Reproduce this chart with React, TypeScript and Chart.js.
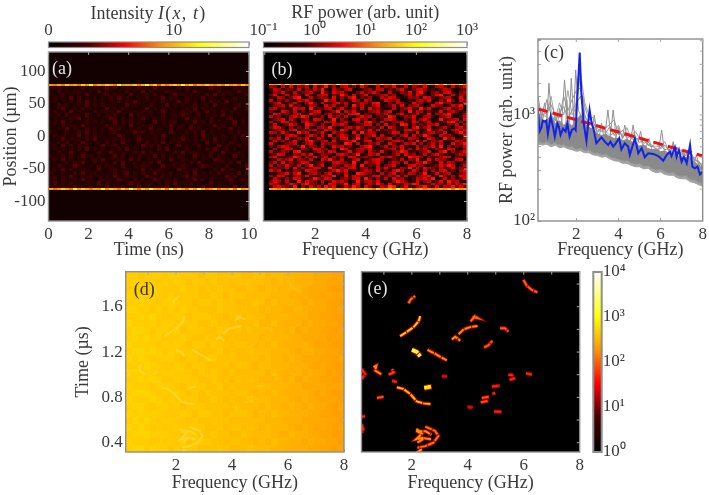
import React, { useEffect, useRef } from "react";
import { Chart, registerables, Element, DatasetController } from "chart.js";

// ---------- data ----------
const heatStops: [number, string][] = [
  [0, "#000000"], [0.2, "#4a0000"], [0.38, "#ff0000"], [0.56, "#ff9000"],
  [0.75, "#ffff00"], [1, "#ffffff"],
];

const positionTicks = [-100, -50, 0, 50, 100];
const timeNsTicks = [0, 2, 4, 6, 8, 10];
const freqTicksB = [0.01, 2, 4, 6, 8];
const freqTicksC = [2, 4, 6, 8];
const freqTicksDE = [1, 2, 3, 4, 5, 6, 7, 8];
const timeUsTicks = [0.4, 0.6, 0.8, 1, 1.2, 1.4, 1.6, 1.8];
const timeUsLabelled = [0.4, 0.8, 1.2, 1.6];
const intensityTicks = [0, 2, 4, 6, 8, 10, 12, 14, 16];
const intensityLabelled = [0, 10];

const aLevels = [0.05, 0.07, 0.08, 0.09, 0.1, 0.11, 0.13, 0.15, 0.17, 0.21];
const aOuterLevel = 0.05;
const lineLevels = [0.3, 0.35, 0.4, 0.44, 0.48, 0.52, 0.56, 0.6, 0.66, 0.74];
const aTopLine = "65758675869576875967685796847578696857686575867586";
const aBottomLine = "75687596875769687586975869768596875869756857685967";
const aRows = [
  "63746152847362947153628473916254738152649371528463",
  "41726358146293742518364917253846127395416283751946",
  "53182647392516847362915473826159473625184937261548",
  "27463918254716382947516382649175328461927536418253",
  "46152738492615374826193574628135947261538472916345",
  "31847256193748265139472618354927163584271936452817",
  "52693174826351947283615492738164257391846253719428",
  "28164937251846372915463827149536284715392648173526",
  "43718265394172658341927546138257496318254719362541",
  "16352849176325498173652941738526149376258413795264",
  "37492615283746159274836512947368125493718264539172",
  "25183674926153847261935748216395471826354917268345",
  "41629375184726395841637259174382651947326185492736",
  "63247158394625178346295817463192547382916453172846",
  "18536429174835261974358261749536182473951628437195",
  "34291756382914657382149635728146395274861935427168",
  "52748163945271836495127384659173826451392746185237",
  "26193847562139478265341957284613927548163294751836",
  "47362518493627154839261745382916547136284951736245",
  "31854962731485296374185927346158293764518329641753",
  "64271835946172539481627354918263751492638175429361",
  "28593716425839164752938146275394186273541987263154",
  "43167285943716528493162758394126574839215647382916",
  "51824697325184763291475863129457386214975362814539",
  "36492815764392178546231957486312975684213749586127",
  "72165384926715348269173854926471538294617385462918",
  "48273951648263719548362197548263179485362714958362",
  "56182473956218473965184723965718243695817432695187",
  "69374825176493825716948357261849375826149375286417",
  "74586392748165938274659183746925817463928574619382",
];

const bLevels = [0.05, 0.12, 0.19, 0.25, 0.29, 0.33, 0.36, 0.4, 0.46, 0.56];
const bTopLine = "76859677596877865977685967758668675856647685967796";
const bBottomLine = "67586876979967685768576787586786975856756567685867";
const bRows = [
  "43052614350623714045231630052436125043260145305236",
  "25403316042537105324600134255031462035641203541023",
  "04362150345207316452013524630152043615720341562034",
  "36015243062145503274051360234514003526410367025143",
  "12540367015234306142570324015365201434065213450162",
  "50324105463012745031264053102643500214536014273054",
  "24610352047315024635103542670031542063412057340216",
  "03452613025400635124073521460235160345201643025471",
  "45130264507132450361240516342005134620735102461350",
  "31064250313560124705362013452460031725403126045312",
  "06523145026430351240567031243501462035126043572014",
  "52301463750214063425103645023175024360145203461025",
  "13460520341653027142056340312564103250463017234506",
  "40265130462301546035214067325013450264135020367142",
  "25013642075314205463012355041623076140325461032504",
  "36520413261045372014536402315064213057246013520463",
  "01432560314520643175024136250314025643107235014625",
  "54263017450236105342061735402136504216034532601473",
  "20314652036415270364125034615203146052374105342016",
  "43506124360253104256037142053460312543016420735124",
  "15240361057324506123470256134025640317250436021543",
  "62013450246105343207615024350163025461403525106347",
  "30465213704325016452310467203514362005143627041325",
  "04136520431652403175024536120345061426350143265104",
  "51243067120354265013624405316203475120346025714236",
  "23650142536014320564137025460213506341250463120354",
  "46012375041623504231650342105463021756403214650321",
  "12534604325106473250146023564013250437016254302561",
  "35061423650234105643270153462035416025473106254013",
  "50426315047236014325460713250346102563401236475025",
  "24135062413650273041562340153621043705264315036142",
  "63502143065412035746021354260315740263150425613046",
  "01346257024531460325107643205146032541370262450135",
  "42650134362015437016254302561340625103456207314265",
  "15304265103742650134256073142506341025463701524036",
  "36425017264305126453017245360124753026145036274510",
  "54213640572314065237146025374160325476102534261547",
  "25643170426351746025374163025487136204573261547362",
];

const cFreqGrid = [0.18, 0.4, 0.6, 0.8, 1, 1.2, 1.4, 1.6, 1.8, 2, 2.2, 2.4, 2.6, 2.8, 3, 3.2, 3.4, 3.6, 3.8, 4, 4.2, 4.4, 4.6, 4.8, 5, 5.2, 5.4, 5.6, 5.8, 6, 6.2, 6.4, 6.6, 6.8, 7, 7.2, 7.4, 7.6, 7.8, 8];
const grayUpper = [1050, 860, 900, 980, 830, 880, 800, 850, 780, 900, 1000, 820, 760, 730, 660, 640, 660, 620, 600, 600, 570, 590, 560, 540, 510, 520, 480, 470, 480, 450, 460, 430, 440, 410, 400, 395, 400, 360, 340, 320];
const grayLower = [575, 545, 565, 535, 550, 525, 530, 505, 510, 480, 490, 465, 470, 445, 440, 425, 430, 405, 395, 385, 370, 375, 355, 345, 350, 330, 335, 315, 305, 310, 295, 285, 290, 270, 265, 270, 250, 245, 235, 225];
const grayD = [1250, 900, 1400, 1000, 880, 1050, 1200, 920, 1100, 1300, 1500, 1000, 800, 860, 700, 720, 680, 780, 640, 720, 610, 680, 600, 620, 550, 580, 520, 500, 560, 480, 520, 460, 520, 430, 440, 420, 460, 380, 360, 340];
const grayE = [950, 1000, 1050, 1250, 1000, 950, 1500, 1100, 1400, 1700, 1800, 1200, 900, 950, 750, 690, 760, 820, 900, 650, 720, 600, 640, 700, 600, 540, 560, 500, 500, 520, 470, 480, 430, 480, 420, 440, 400, 400, 350, 330];
const grayF = [1180, 1000, 960, 1500, 900, 1300, 1000, 1700, 1000, 1200, 2500, 1300, 1000, 800, 680, 780, 700, 640, 680, 800, 600, 760, 600, 580, 620, 500, 530, 520, 470, 490, 560, 450, 470, 450, 470, 410, 430, 370, 370, 320];
const grayG = [530, 520, 530, 500, 520, 490, 500, 480, 470, 455, 460, 440, 440, 420, 415, 400, 405, 385, 370, 365, 350, 350, 335, 325, 325, 310, 315, 295, 285, 290, 275, 270, 270, 255, 250, 250, 235, 230, 220, 212];

const spikeAFreq = [0.18, 0.4, 0.6, 0.7, 0.85, 1.3, 1.44, 1.6, 1.85, 1.97, 2.1, 2.5, 2.63, 2.8, 3.35, 3.5, 3.65, 4.55, 4.7, 4.85, 5.9, 6.05, 6.2, 7.25, 7.4, 7.55];
const spikeAPower = [1490, 850, 880, 1990, 800, 820, 2140, 800, 760, 2660, 1100, 760, 1115, 680, 620, 1115, 600, 540, 805, 510, 450, 722, 430, 390, 485, 370];
const spikeBFreq = [0.3, 0.5, 0.65, 1.1, 1.2, 1.35, 1.65, 1.76, 1.9, 2.08, 2.2, 2.35, 2.75, 2.85, 3, 3.6, 3.75, 3.9, 4.15, 4.3, 4.45, 4.9, 5.05, 5.2, 6.45, 6.6, 6.75, 7.6, 7.7, 7.85];
const spikeBPower = [860, 1300, 820, 800, 1150, 780, 780, 2220, 760, 2300, 2000, 800, 740, 1000, 650, 600, 1115, 580, 570, 800, 540, 520, 700, 490, 420, 560, 400, 350, 420, 320];
const spikeCFreq = [0.9, 1, 1.1, 1.5, 1.55, 1.65, 2.25, 2.32, 2.45, 3.1, 3.2, 3.3, 3.85, 4, 4.1, 5.3, 5.45, 5.6, 6.9, 7, 7.1];
const spikeCPower = [800, 1050, 780, 780, 1400, 760, 900, 1500, 740, 640, 840, 620, 590, 760, 560, 480, 600, 460, 390, 470, 380];

const blueFreq = [0.18, 0.25, 0.33, 0.41, 0.49, 0.57, 0.65, 0.78, 0.89, 0.98, 1.1, 1.17, 1.25, 1.37, 1.49, 1.57, 1.68, 1.79, 1.92, 1.97, 2.05, 2.16, 2.24, 2.35, 2.48, 2.63, 2.73, 2.83, 2.95, 3.19, 3.35, 3.51, 3.62, 3.75, 3.87, 4.03, 4.14, 4.3, 4.46, 4.54, 4.78, 4.94, 5.1, 5.25, 5.41, 5.65, 5.89, 6.13, 6.29, 6.44, 6.52, 6.68, 6.76, 6.87, 7, 7.11, 7.24, 7.4, 7.51, 7.63, 7.75, 7.87, 8];
const bluePower = [1115, 697, 749, 885, 865, 885, 662, 964, 776, 625, 834, 776, 647, 743, 697, 834, 625, 722, 749, 722, 1490, 3873, 1600, 834, 569, 1115, 834, 722, 540, 616, 560, 521, 560, 503, 540, 602, 474, 540, 503, 419, 602, 435, 485, 399, 435, 429, 410, 371, 419, 451, 410, 495, 404, 468, 363, 404, 350, 521, 326, 314, 326, 275, 292];
const redFreq = [0.18, 2, 4, 6, 8];
const redPower = [1140, 900, 690, 530, 410];

const dLevels = [0.585, 0.595, 0.605, 0.615, 0.625, 0.635, 0.645, 0.655, 0.665, 0.675];
const dRows = [
  "887888788777677666655664554443322211",
  "898787878767767665666555454433322111",
  "888898777877676766556545544443222100",
  "989888787777667656665555444333221211",
  "889887888776776766555654544432322110",
  "998878787877666766565545443343222101",
  "889898778767776656656554444333221100",
  "988887887777667665555644543332322110",
  "899878878677766765656554443423221101",
  "898988777876676656555545444332222010",
  "988887878767767665665454543333211100",
  "899898787777666756556555444323322110",
  "989878887677677666555545443432221101",
  "888988778767766665665455444333212100",
  "998887887776767656555554543332322010",
  "889898778777667665656544443423221100",
  "988878887677766756555555444332222111",
  "899987778767676665665454543333212100",
  "988898787777667656556555444323221110",
  "899878878677766665655545443432322101",
  "989888777876776656665454544333221100",
  "898987887767667665555554443332222110",
  "989878778777766756656545444323212101",
  "899988877677667665565555433433221100",
  "988878787867776656655454544332322110",
  "899898878777666765556555443333221101",
];

const streakFreq = [
  [1.88, 1.96, 2.12],
  [1.58, 1.82, 2.06, 2.24, 2.3],
  [3.43, 3.55, 3.73],
  [3.67, 3.85, 4.08, 4.35],
  [4.1, 4.25, 4.35, 4.15],
  [5.15, 5.33, 5.45],
  [4.58, 4.74, 4.88],
  [5.99, 6.11, 6.29, 6.49],
  [2, 2.18, 2.3],
  [2.56, 2.83, 3.07, 3.25],
  [0.63, 0.73, 0.69, 0.93],
  [1.17, 1.35, 1.29],
  [1.29, 1.46],
  [1.46, 1.7, 1.94, 2.18, 2.42, 2.68],
  [2.44, 2.71],
  [0.75, 0.99],
  [0.21, 0.33, 0.21],
  [0.2, 0.33],
  [0.2, 0.26, 0.2],
  [3.07, 3.25],
  [5.45, 5.63],
  [5.49, 5.7],
  [6.08, 6.29],
  [4.86, 5.15],
  [4.88, 4.98],
  [4.5, 4.77],
  [4.46, 4.74],
  [3.99, 4.18],
  [4.94, 5.21],
  [2.48, 2.83, 2.95, 2.77, 2.48, 2.2],
  [2.15, 2.36, 2.15, 2.42],
  [2.15, 2.36],
  [2.15, 2.3, 2.5, 2.7],
  [2.2, 2.45, 2.7],
];
const streakTime = [
  [1.63, 1.665, 1.695],
  [1.34, 1.378, 1.42, 1.47, 1.517],
  [1.31, 1.335, 1.3],
  [1.357, 1.4, 1.42, 1.43],
  [1.47, 1.515, 1.5, 1.51],
  [1.41, 1.41, 1.38],
  [1.24, 1.26, 1.3],
  [1.837, 1.784, 1.748, 1.727],
  [1.22, 1.2, 1.161],
  [1.22, 1.185, 1.15, 1.126],
  [1.067, 1.08, 1.037, 1],
  [1, 1.02, 1.05],
  [0.948, 0.933],
  [0.889, 0.874, 0.83, 0.764, 0.747, 0.741],
  [0.883, 0.895],
  [0.794, 0.806],
  [1.05, 1.007, 0.963],
  [0.628, 0.634],
  [0.563, 0.52, 0.489],
  [0.987, 0.984],
  [1.0, 0.995],
  [0.955, 0.97],
  [1.013, 1],
  [0.895, 0.904],
  [0.83, 0.84],
  [0.794, 0.806],
  [0.756, 0.77],
  [0.717, 0.711],
  [0.676, 0.673],
  [0.542, 0.504, 0.459, 0.4, 0.37, 0.356],
  [0.504, 0.48, 0.43, 0.444],
  [0.311, 0.341],
  [0.52, 0.5, 0.5, 0.47],
  [0.4, 0.44, 0.43],
];
const streakPeak = [0.52, 0.66, 0.56, 0.55, 0.52, 0.5, 0.48, 0.5, 0.8, 0.55, 0.55, 0.46, 0.42, 0.62, 0.72, 0.48, 0.42, 0.42, 0.42, 0.38, 0.42, 0.42, 0.42, 0.42, 0.42, 0.48, 0.48, 0.36, 0.42, 0.52, 0.56, 0.58, 0.55, 0.55];

// ---------- colour + custom heat-cell dataset type ----------
function hex(c: string) {
  return [1, 3, 5].map((i) => parseInt(c.slice(i, i + 2), 16));
}
function heat(t: number) {
  for (let i = 1; i < heatStops.length; i++) {
    const [t1, c1] = heatStops[i];
    if (t <= t1) {
      const [t0, c0] = heatStops[i - 1];
      const f = (t - t0) / (t1 - t0);
      const a = hex(c0), b = hex(c1);
      return `rgb(${a.map((v, k) => Math.round(v + (b[k] - v) * f)).join(",")})`;
    }
  }
  return "#ffffff";
}

class HeatCell extends (Element as any) {
  static id = "heatCell";
  static defaults = {};
  draw(ctx: CanvasRenderingContext2D) {
    const s = this as any;
    ctx.fillStyle = s.color;
    ctx.fillRect(s.px, s.py, s.pw, s.ph);
  }
}
class HeatController extends (DatasetController as any) {
  static id = "heat";
  static defaults = { dataElementType: "heatCell", datasetElementType: false };
  update(mode: any) {
    const meta = (this as any)._cachedMeta;
    this.updateElements(meta.data, 0, meta.data.length, mode);
  }
  updateElements(cells: any[], start: number, count: number) {
    const meta = (this as any)._cachedMeta;
    const { xScale, yScale, _parsed } = meta;
    for (let i = start; i < start + count; i++) {
      const d = _parsed[i];
      const l = Math.round(xScale.getPixelForValue(d.x0));
      const r = Math.round(xScale.getPixelForValue(d.x1));
      const t = Math.round(yScale.getPixelForValue(d.y1));
      const b = Math.round(yScale.getPixelForValue(d.y0));
      Object.assign(cells[i], { px: l, py: t, pw: r - l, ph: b - t, x: l, y: t, color: d.color });
    }
  }
}
Chart.register(...registerables, HeatCell as any, HeatController as any);

function gridCells(rows: string[], levels: number[], x0: number, x1: number, yTop: number, yBottom: number) {
  const cells: any[] = [];
  const rowH = (yTop - yBottom) / rows.length;
  rows.forEach((row, ri) => {
    const w = (x1 - x0) / row.length;
    [...row].forEach((ch, ci) => {
      cells.push({
        x: x0 + ci * w, y: yTop - ri * rowH,
        x0: x0 + ci * w, x1: x0 + (ci + 1) * w,
        y1: yTop - ri * rowH, y0: yTop - (ri + 1) * rowH,
        color: heat(levels[+ch]),
      });
    });
  });
  return cells;
}
const heatSet = (cells: any[]) => ({ type: "heat", parsing: false, data: cells });
const pairs = (xs: number[], ys: number[]) => xs.map((x, i) => ({ x, y: ys[i] }));
const lineSet = (xs: number[], ys: number[], color: string, width: number, extra: any = {}) => ({
  type: "line", data: pairs(xs, ys), borderColor: color, borderWidth: width, pointRadius: 0,
  tension: 0, fill: false, ...extra,
});

// ---------- panel scaffolding ----------
const SERIF = "'Liberation Serif'";
const TEXT = "#3a3a3a";
const FRAME = "#8e8e8e";
const TICK_SIZE = 17;
const TITLE_SIZE = 18;

const decoPlugin = {
  id: "panelDeco",
  beforeDatasetsDraw(chart: any, _a: any, o: any) {
    if (!o.bg) return;
    const a = chart.chartArea;
    chart.ctx.fillStyle = o.bg;
    chart.ctx.fillRect(a.left, a.top, a.right - a.left, a.bottom - a.top);
  },
  afterDraw(chart: any, _a: any, o: any) {
    const a = chart.chartArea, ctx = chart.ctx;
    ctx.save();
    ctx.strokeStyle = FRAME;
    ctx.lineWidth = o.frameWidth ?? 1.4;
    ctx.strokeRect(a.left, a.top, a.right - a.left, a.bottom - a.top);
    ctx.lineWidth = 1;
    ctx.strokeStyle = "#a8a8a8";
    if (o.mirror !== false) {
      const xs = chart.scales.x, ys = chart.scales.y;
      xs.ticks.forEach((_: any, i: number) => {
        const p = xs.getPixelForTick(i);
        ctx.beginPath(); ctx.moveTo(p, a.top); ctx.lineTo(p, a.top + 3); ctx.stroke();
      });
      ys.ticks.forEach((_: any, i: number) => {
        const p = ys.getPixelForTick(i);
        ctx.beginPath(); ctx.moveTo(a.right, p); ctx.lineTo(a.right - 3, p); ctx.stroke();
      });
    }
    if (o.label) {
      ctx.fillStyle = o.labelColor;
      ctx.font = `${TITLE_SIZE}px ${SERIF}`;
      ctx.textBaseline = "middle";
      ctx.fillText(o.label, a.left + o.labelDX, a.top + o.labelDY);
    }
    if (o.sideTitle) {
      ctx.translate(o.sideX, (a.top + a.bottom) / 2 + 1);
      ctx.rotate(-Math.PI / 2);
      ctx.fillStyle = TEXT;
      ctx.font = `${TITLE_SIZE}px ${SERIF}`;
      ctx.textAlign = "center";
      ctx.textBaseline = "middle";
      ctx.fillText(o.sideTitle, 0, 0);
    }
    ctx.restore();
  },
};

const SUP: Record<string, string> = { "-": "⁻", "0": "⁰", "1": "¹", "2": "²", "3": "³", "4": "⁴" };
function logLabel(v: number) {
  const e = Math.log10(v);
  if (Math.abs(e - Math.round(e)) > 1e-6) return "";
  return "10" + [...String(Math.round(e))].map((c) => SUP[c]).join("");
}

function axis(o: {
  type?: string; min: number; max: number; ticks?: number[]; labelled?: number[] | null;
  format?: (v: number) => string; size: number; horizontal: boolean; position: string;
  title?: string; gap?: number; noLabels?: boolean;
}) {
  const gap = o.gap ?? 2;
  return {
    type: o.type ?? "linear",
    position: o.position,
    min: o.min,
    max: o.max,
    afterBuildTicks: o.ticks ? (s: any) => { s.ticks = o.ticks!.map((value) => ({ value })); } : undefined,
    afterFit: (s: any) => {
      if (o.horizontal) s.height = o.size; else s.width = o.size;
      s.paddingLeft = s.paddingRight = s.paddingTop = s.paddingBottom = 0;
    },
    ticks: {
      autoSkip: false, maxRotation: 0, minRotation: 0, padding: 4 + gap, color: TEXT,
      font: { family: SERIF, size: TICK_SIZE },
      callback: (v: number) => {
        if (o.noLabels) return "";
        if (o.labelled && !o.labelled.some((l) => Math.abs(l - v) < 1e-6)) return "";
        return o.format ? o.format(v) : String(+(+v).toFixed(2));
      },
    },
    grid: { drawOnChartArea: false, drawTicks: true, tickLength: -3, tickColor: "#a8a8a8", tickWidth: 1 },
    border: { display: false },
    title: o.title
      ? { display: true, text: o.title, color: TEXT, padding: 0, font: { family: SERIF, size: TITLE_SIZE } }
      : { display: false },
  };
}

type Box = [number, number, number, number];
type PanelSpec = {
  box: Box; plot: Box; yW: number; xH: number; type: string; data: any; scales: any; deco: any;
  indexAxis?: string; xTop?: boolean;
};

function baseOptions(p: PanelSpec) {
  const [bl, bt, br, bb] = p.box;
  const [l, t, r, b] = p.plot;
  const yRight = p.deco.yRight;
  return {
    responsive: false, animation: false as const, events: [] as string[], indexAxis: p.indexAxis ?? "x",
    layout: {
      padding: {
        left: yRight ? l - bl : l - bl - p.yW,
        top: p.xTop ? t - bt - p.xH : t - bt,
        right: yRight ? br - r - p.yW : br - r,
        bottom: p.xTop ? bb - b : bb - b - p.xH,
      },
    },
    scales: p.scales,
    plugins: { legend: { display: false }, tooltip: { enabled: false }, panelDeco: p.deco },
  };
}

// ---------- panels ----------
const X_RANGE_B: [number, number] = [-0.04, 8];

const panels: PanelSpec[] = [
  {
    box: [0, 45, 262, 264], plot: [48.5, 52, 249, 221], yW: 48, xH: 40, type: "heat",
    data: {
      datasets: [
        heatSet([
          ...gridCells([aTopLine], lineLevels, 0, 10, 80.5, 77.5),
          ...gridCells([aBottomLine], lineLevels, 0, 10, -79.5, -82.5),
        ]),
        heatSet(gridCells(aRows, aLevels, 0, 10, 77.5, -79.5)),
        heatSet(gridCells(["0"], [aOuterLevel], 0, 10, 130, -130)),
      ],
    },
    scales: {
      x: axis({ min: 0, max: 10, ticks: timeNsTicks, size: 40, horizontal: true, position: "bottom", title: "Time (ns)" }),
      y: axis({ min: -130, max: 130, ticks: positionTicks, size: 48, horizontal: false, position: "left", title: "Position (µm)" }),
    },
    deco: { label: "(a)", labelColor: "#e6e6e6", labelDX: 3.5, labelDY: 17 },
  },
  {
    box: [255, 45, 490, 264], plot: [263.5, 52, 467, 221], yW: 8, xH: 40, type: "heat",
    data: {
      datasets: [
        heatSet([
          ...gridCells([bTopLine], lineLevels, 0.18, 8, 81.5, 78.5),
          ...gridCells([bBottomLine], lineLevels, 0.18, 8, -79.5, -82.5),
        ]),
        heatSet(gridCells(bRows, bLevels, 0.18, 8, 78.5, -79.5)),
      ],
    },
    scales: {
      x: axis({ min: X_RANGE_B[0], max: X_RANGE_B[1], ticks: freqTicksB, labelled: freqTicksC, size: 40, horizontal: true, position: "bottom", title: "Frequency (GHz)" }),
      y: axis({ min: -130, max: 130, ticks: positionTicks, size: 8, horizontal: false, position: "left", noLabels: true }),
    },
    deco: { label: "(b)", labelColor: "#e6e6e6", bg: "#000000", labelDX: 8, labelDY: 18 },
  },
  {
    box: [490, 30, 709, 264], plot: [538, 39, 702.7, 221], yW: 42, xH: 40, type: "line",
    data: {
      datasets: [
        lineSet(blueFreq, bluePower, "#1222e6", 2),
        lineSet(redFreq, redPower, "#e8141c", 3, { borderDash: [10, 5] }),
        lineSet(cFreqGrid, grayUpper, "#8a8a8a", 1, { fill: "+1", backgroundColor: "#8a8a8a" }),
        lineSet(cFreqGrid, grayLower, "#8a8a8a", 1, { fill: "+1", backgroundColor: "#a2a2a2" }),
        lineSet(cFreqGrid, grayG, "#a0a0a0", 1),
        lineSet(cFreqGrid, grayD, "#8f8f8f", 1),
        lineSet(cFreqGrid, grayE, "#969696", 1),
        lineSet(cFreqGrid, grayF, "#a0a0a0", 1),
        lineSet(spikeAFreq, spikeAPower, "#8f8f8f", 1),
        lineSet(spikeBFreq, spikeBPower, "#8f8f8f", 1),
        lineSet(spikeCFreq, spikeCPower, "#999999", 1),
      ],
    },
    scales: {
      x: axis({ min: 0.18, max: 8, ticks: freqTicksC, size: 40, horizontal: true, position: "bottom", title: "Frequency (GHz)" }),
      y: axis({ type: "logarithmic", min: 100, max: 5200, format: logLabel, size: 42, horizontal: false, position: "left", title: "RF power (arb. unit)" }),
    },
    deco: { label: "(c)", labelColor: "#333333", labelDX: 6, labelDY: 14 },
  },
  {
    box: [60, 262, 352, 495], plot: [125.7, 271.7, 344, 452], yW: 53, xH: 42.5, type: "heat",
    data: {
      datasets: [
        ...streakFreq.map((f, i) =>
          lineSet(f, streakTime[i], `rgba(255,226,70,${streakPeak[i] > 0.5 ? 0.5 : 0.2})`, 2.4)),
        heatSet(gridCells(dRows, dLevels, 0.2, 8, 1.91, 0.318)),
      ],
    },
    scales: {
      x: axis({ min: 0.2, max: 8, ticks: freqTicksDE, labelled: freqTicksC, size: 42.5, horizontal: true, position: "bottom", title: "Frequency (GHz)" }),
      y: axis({ min: 0.318, max: 1.909, ticks: timeUsTicks, labelled: timeUsLabelled, size: 53, horizontal: false, position: "left", title: "Time (µs)" }),
    },
    deco: { label: "(d)", labelColor: "#333333", labelDX: 8, labelDY: 19 },
  },
  {
    box: [352, 262, 590, 495], plot: [361.5, 271.7, 579.7, 452], yW: 9, xH: 42.5, type: "line",
    data: {
      datasets: [
        ...streakFreq.map((f, i) =>
          lineSet(f, streakTime[i], heat(streakPeak[i]), streakPeak[i] >= 0.7 ? 3.8 : 2, { borderDash: [7, 1] })),
        ...streakFreq.map((f, i) =>
          lineSet(f, streakTime[i], "#a80000", streakPeak[i] >= 0.7 ? 6 : 3.8)),
      ],
    },
    scales: {
      x: axis({ min: 0.2, max: 8, ticks: freqTicksDE, labelled: freqTicksC, size: 42.5, horizontal: true, position: "bottom", title: "Frequency (GHz)" }),
      y: axis({ min: 0.318, max: 1.909, ticks: timeUsTicks, size: 9, horizontal: false, position: "left", noLabels: true }),
    },
    deco: { label: "(e)", labelColor: "#e6e6e6", bg: "#000000", labelDX: 6, labelDY: 18 },
  },
];

// ---------- colour bars ----------
function barGradient(vertical: boolean) {
  return (c: any) => {
    const a = c.chart.chartArea;
    if (!a) return "#000";
    const g = vertical
      ? c.chart.ctx.createLinearGradient(0, a.bottom, 0, a.top)
      : c.chart.ctx.createLinearGradient(a.left, 0, a.right, 0);
    heatStops.forEach(([t, col]) => g.addColorStop(t, col));
    return g;
  };
}
function colorBar(box: Box, plot: Box, vertical: boolean, scale: any, size: number, deco: any, range: [number, number]): PanelSpec {
  return {
    box, plot, yW: vertical ? size : 0, xH: vertical ? 0 : size, type: "bar", xTop: !vertical,
    indexAxis: vertical ? "x" : "y",
    data: {
      labels: [""],
      datasets: [{ data: [range], backgroundColor: barGradient(vertical), barPercentage: 1, categoryPercentage: 1, borderWidth: 0 }],
    },
    scales: vertical
      ? { y: scale, x: { type: "category", display: false } }
      : { x: scale, y: { type: "category", display: false } },
    deco: { mirror: false, frameWidth: vertical ? 2 : 1.2, ...deco, yRight: vertical },
  };
}
const bars: PanelSpec[] = [
  colorBar([20, 0, 275, 55], [48.5, 42, 249, 47.5], false,
    axis({ min: 0, max: 16, ticks: intensityTicks, labelled: intensityLabelled, size: 40, horizontal: true, position: "top", gap: 0 }),
    40, {}, [0, 16]),
  colorBar([240, 0, 490, 55], [263.5, 42, 467, 47.5], false,
    axis({ type: "logarithmic", min: 0.1, max: 1000, format: logLabel, size: 40, horizontal: true, position: "top", gap: 0, title: "RF power (arb. unit)" }),
    40, {}, [0.1, 1000]),
  colorBar([585, 262, 665, 470], [593.3, 272, 601.7, 452], true,
    axis({ type: "logarithmic", min: 1, max: 10000, format: logLabel, size: 46, horizontal: false, position: "right", gap: 0 }),
    46, { sideTitle: "RF power (arb. unit)", sideX: 639 }, [1, 10000]),
];

function Panel({ spec }: { spec: PanelSpec }) {
  const ref = useRef<HTMLCanvasElement>(null);
  useEffect(() => {
    const chart = new Chart(ref.current!, {
      type: spec.type as any,
      data: spec.data,
      options: baseOptions(spec) as any,
      plugins: [decoPlugin as any],
    });
    return () => chart.destroy();
  }, []);
  const [l, t, r, b] = spec.box;
  return (
    <canvas
      ref={ref}
      width={r - l}
      height={b - t}
      style={{ position: "absolute", left: l, top: t, width: r - l, height: b - t }}
    />
  );
}

export default function App() {
  return (
    <div style={{ position: "fixed", left: 0, top: 0, width: 709, height: 495, background: "#fff", overflow: "hidden" }}>
      {[...bars, ...panels].map((p, i) => <Panel key={i} spec={p} />)}
      <div style={{ position: "absolute", left: 48, width: 201, top: 3, textAlign: "center", fontFamily: SERIF, fontSize: TITLE_SIZE, color: TEXT, whiteSpace: "nowrap" }}>
        Intensity <span style={{ letterSpacing: 1.2 }}><i>I</i>(<i>x</i>, <i>t</i>)</span>
      </div>
    </div>
  );
}
